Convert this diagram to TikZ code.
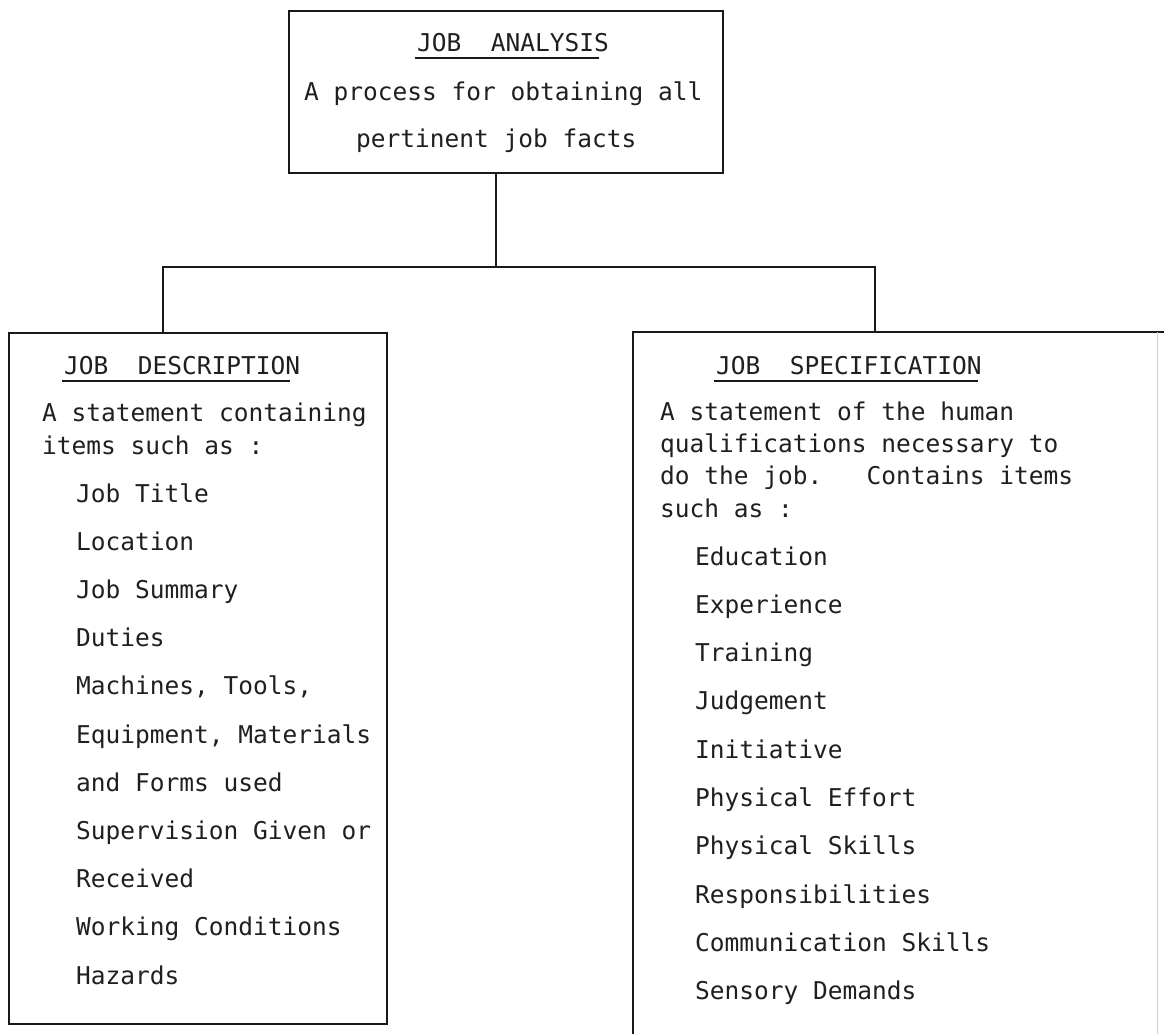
\documentclass[tikz,border=0pt]{standalone}
\usepackage{fontspec}
\setmonofont{DejaVu Sans Mono}
\begin{document}
\begin{tikzpicture}[x=1pt,y=-1pt,
  frame/.style={draw=black!90, line width=2.4pt, rectangle, inner sep=0pt},
  txt/.style={anchor=base west, inner sep=0pt, font=\ttfamily\fontsize{24.5}{28}\selectfont, text=black!88},
  rule/.style={line width=2.2pt, black!90},
  link/.style={line width=2.4pt, black!90}]
\useasboundingbox (0,0) rectangle (1164,1033);

% the three boxes
\node[frame, anchor=north west, minimum width=434pt, minimum height=162pt] (ja) at (288,10) {};
\node[frame, anchor=north west, minimum width=378pt, minimum height=691pt] (jd) at (8,332) {};
\node[draw=none, rectangle, inner sep=0pt, anchor=north west, minimum width=524pt, minimum height=720pt] (js) at (633,332) {};
\draw[link] (js.south west) -- (js.north west) -- (1164,332);
\draw[line width=1pt, black!18] (js.north east) -- (js.south east);

% connectors
\coordinate (bus) at (0,267);
\coordinate (jdtop) at ([xshift=155pt]jd.north west);
\coordinate (jstop) at ([xshift=242pt]js.north west);
\draw[link] (ja.south -| 496,0) -- (bus -| 496,0);
\draw[link] (jdtop) |- (bus -| jstop) -- (jstop);

% top box text
\node[txt] (jah) at (417,52) {JOB\ \ ANALYSIS};
\draw[rule] (jah.base west) ++(-2,6) -- ++(184,0);
\node[txt] (ja1) at (304,100) {A process for obtaining all};
\node[txt] (ja2) at (356,147) {pertinent job facts};

% left box text
\node[txt] (jdh) at (64,374) {JOB\ \ DESCRIPTION};
\draw[rule] (jdh.base west) ++(-2,7) -- ++(228,0);
\node[txt] (jd1) at (42,421) {A statement containing};
\node[txt] (jd2) at (42,454) {items such as :};
\foreach \t [count=\i from 0] in {Job Title,Location,Job Summary,Duties,{Machines, Tools,},{Equipment, Materials},and Forms used,Supervision Given or,Received,Working Conditions,Hazards}
  \node[txt] (jdi\i) at (76,502+48.2*\i) {\t};

% right box text
\node[txt] (jsh) at (716,374) {JOB\ \ SPECIFICATION};
\draw[rule] (jsh.base west) ++(-2,7) -- ++(264,0);
\node[txt] (js1) at (660,420) {A statement of the human};
\node[txt] (js2) at (660,452) {qualifications necessary to};
\node[txt] (js3) at (660,484) {do the job.\ \ \ Contains items};
\node[txt] (js4) at (660,517) {such as :};
\foreach \t [count=\i from 0] in {Education,Experience,Training,Judgement,Initiative,Physical Effort,Physical Skills,Responsibilities,Communication Skills,Sensory Demands}
  \node[txt] (jsi\i) at (695,565+48.3*\i) {\t};
\end{tikzpicture}
\end{document}
